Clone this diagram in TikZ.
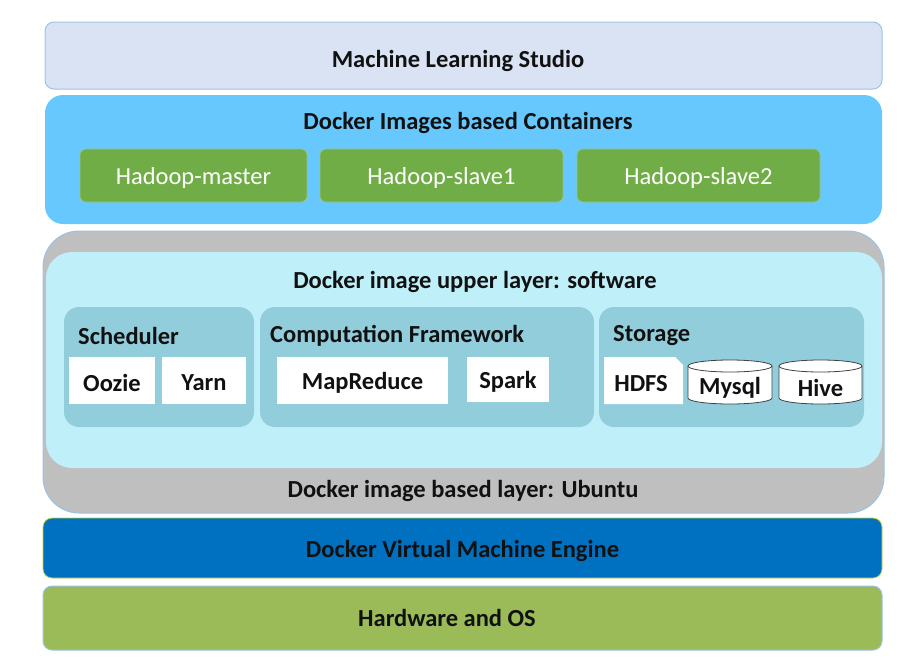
\documentclass[tikz,border=0pt]{standalone}
\usepackage{fontspec}
\setmainfont{Carlito}
\definecolor{mlfill}{HTML}{DAE3F3}
\definecolor{bord}{HTML}{9DC3E6}
\definecolor{contfill}{HTML}{66C8FC}
\definecolor{grn}{HTML}{70AD47}
\definecolor{grayfill}{HTML}{BFBFBF}
\definecolor{cyanfill}{HTML}{BFEFF9}
\definecolor{grpfill}{HTML}{92CDDC}
\definecolor{vmfill}{HTML}{0070C0}
\definecolor{hwfill}{HTML}{9BBB59}
\definecolor{txt}{HTML}{111111}
\tikzset{
  lbl/.style={font=\fontsize{24.5}{26}\selectfont\bfseries, text=txt, inner sep=0pt, yshift=-2pt},
  layer/.style={draw=bord, line width=1pt},
  greenbox/.style={draw=grn!70!white, fill=grn, rounded corners=6pt, line width=0.6pt},
  greentext/.style={font=\fontsize{24.5}{26}\selectfont, text=white, yshift=-2pt},
  grp/.style={fill=grpfill, rounded corners=15pt},
  whitebox/.style={fill=white},
  wtext/.style={font=\fontsize{24.5}{26}\selectfont\bfseries, text=txt, yshift=-2pt},
  dbline/.style={draw=txt!80, fill=white, line width=0.8pt}
}
\begin{document}
\begin{tikzpicture}[x=1pt,y=-1pt]
\useasboundingbox[fill=white] (0,0) rectangle (905,664);
% Machine Learning Studio
\draw[layer, fill=mlfill, rounded corners=9pt] (45,22) rectangle (882,89);
\node[lbl] (mls) at (458,59) {Machine Learning Studio};
% Containers
\fill[contfill, rounded corners=18pt] (45,95) rectangle (882,224);
\node[lbl] (cont) at (468,121) {Docker Images based Containers};
\draw[greenbox] (80,149) rectangle node[greentext] (hm) {Hadoop-master} (307,202);
\draw[greenbox] (320,149) rectangle node[greentext] (hs1) {Hadoop-slave1} (563,202);
\draw[greenbox] (577,149) rectangle node[greentext] (hs2) {Hadoop-slave2} (820,202);
% Ubuntu layer
\draw[layer, fill=grayfill, rounded corners=36pt] (43,231) rectangle (884,513);
\fill[cyanfill, rounded corners=26pt] (46,252) rectangle (882,468);
\node[lbl] (up) at (475,280) {Docker image upper layer: software};
\node[lbl] (ub) at (463,489) {Docker image based layer: Ubuntu};
% groups
\fill[grp] (64,307) rectangle (254,427);
\fill[grp] (260,307) rectangle (594,427);
\fill[grp] (599,307) rectangle (864,427);
\node[lbl, anchor=west] (sch) at (78,334) {Scheduler};
\node[lbl, anchor=west] (cf) at (270,334) {Computation Framework};
\node[lbl, anchor=west] (st) at (613,334) {Storage};
\fill[whitebox] (69,357) rectangle node[wtext] (oozie) {Oozie} (155,404);
\fill[whitebox] (162,357) rectangle node[wtext] (yarn) {Yarn} (246,404);
\fill[whitebox] (277,357) rectangle node[wtext] (mr) {MapReduce} (448,404);
\fill[whitebox] (467,357) rectangle node[wtext] (spark) {Spark} (549,402);
\fill[white] (604,357) -- (675,357) -- (683,365) -- (683,404) -- (604,404) -- cycle;
\node[wtext] (hdfs) at (641,382) {HDFS};
% Mysql cylinder
\path[dbline] (688,366) -- (688,398) arc[start angle=180, end angle=360, x radius=42pt, y radius=6pt]
  -- (772,366) arc[start angle=0, end angle=180, x radius=42pt, y radius=6pt] -- cycle;
\draw[draw=txt!80, line width=0.8pt] (688,366) arc[start angle=180, end angle=360, x radius=42pt, y radius=6pt];
\node[wtext] (mysqlt) at (730,386) {Mysql};
% Hive cylinder
\path[dbline] (779,366) -- (779,398) arc[start angle=180, end angle=360, x radius=41.5pt, y radius=6pt]
  -- (862,366) arc[start angle=0, end angle=180, x radius=41.5pt, y radius=6pt] -- cycle;
\draw[draw=txt!80, line width=0.8pt] (779,366) arc[start angle=180, end angle=360, x radius=41.5pt, y radius=6pt];
\node[wtext] (hivet) at (820.5,386) {Hive};
% VM engine
\draw[draw=hwfill!60!yellow, line width=0.8pt, fill=vmfill, rounded corners=9pt] (43,518) rectangle (882,578);
\node[lbl] (vm) at (462.5,549) {Docker Virtual Machine Engine};
% Hardware
\draw[layer, fill=hwfill, rounded corners=9pt] (43,586) rectangle (882,650);
\node[lbl] (hw) at (447,616) {Hardware and OS};
\end{tikzpicture}
\end{document}
